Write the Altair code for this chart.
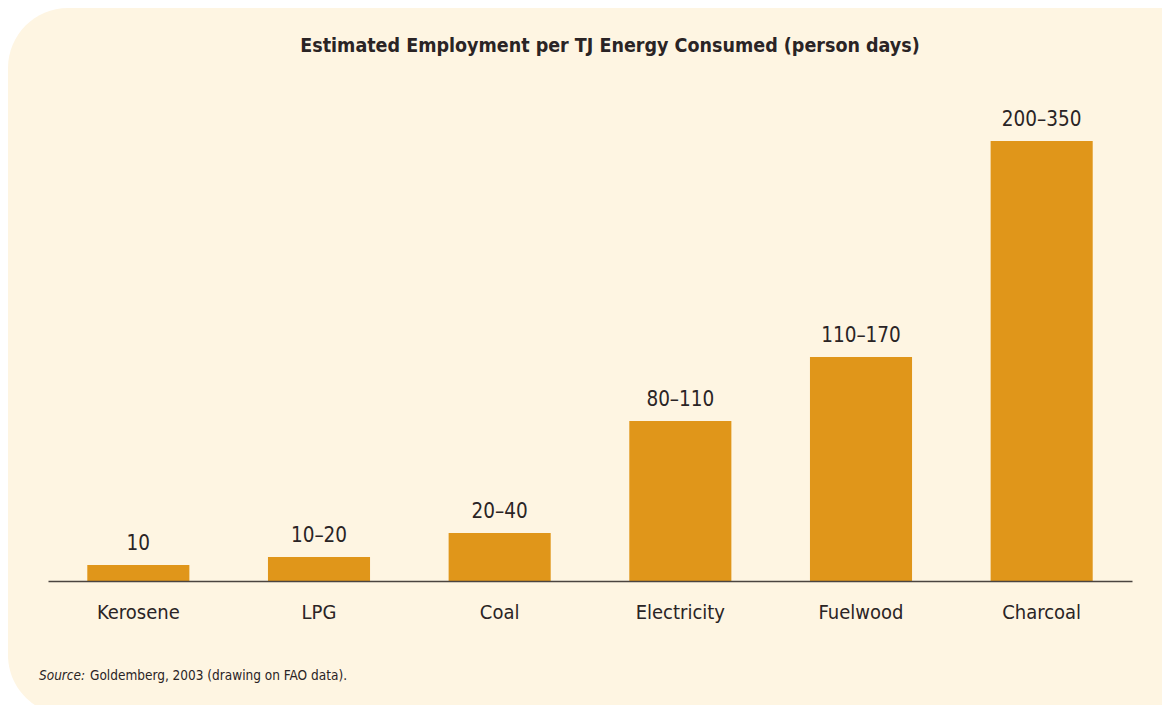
import altair as alt
import pandas as pd

categories = ["Kerosene", "LPG", "Coal", "Electricity", "Fuelwood", "Charcoal"]
bar_values = [10, 15, 30, 100, 140, 275]
range_labels = ["10", "10–20", "20–40", "80–110", "110–170", "200–350"]

title_text = "Estimated Employment per TJ Energy Consumed (person days)"
source_lead = "Source:"
source_rest = "Goldemberg, 2003 (drawing on FAO data)."

FONT = "DejaVu Sans Condensed, Liberation Sans Narrow, sans-serif"
TEXT = "#2a2425"
BAR = "#e0961a"
PANEL = "#fef5e2"

W, H = 1084, 480
PL, PT, PR, PB = 40, 93, 30, 124

df = pd.DataFrame({"fuel": categories, "value": bar_values, "label": range_labels})
one = pd.DataFrame({"k": [0]})

panel = alt.Chart(one).mark_rect(color=PANEL, cornerRadius=60).encode(
    x=alt.value(-PL), x2=alt.value(W + PR + 120),
    y=alt.value(-PT), y2=alt.value(H + PB + 10),
)

x_enc = alt.X(
    "fuel:N", sort=categories,
    scale=alt.Scale(paddingInner=0.435, paddingOuter=0.2175),
    axis=alt.Axis(
        title=None, labelAngle=0, ticks=False, tickSize=0, labelPadding=37,
        labelBaseline="alphabetic", labelFontSize=20, labelFont=FONT,
        labelColor=TEXT, domainColor="#4a4440", domainWidth=1.5,
        grid=False, zindex=1,
    ),
)
y_enc = alt.Y("value:Q", scale=alt.Scale(domain=[0, 300]), axis=None)

bars = alt.Chart(df).mark_bar(color=BAR).encode(x=x_enc, y=y_enc)

labels = alt.Chart(df).mark_text(
    dy=-15, baseline="alphabetic", fontSize=20.5, font=FONT, color=TEXT
).encode(x=alt.X("fuel:N", sort=categories), y=y_enc, text="label:N")

title = alt.Chart(one).mark_text(
    text=title_text, font=FONT, fontSize=19.5, fontWeight="bold", color=TEXT,
    align="center", baseline="alphabetic",
).encode(x=alt.value(562), y=alt.value(-49.5))

src1 = alt.Chart(one).mark_text(
    text=source_lead, font=FONT, fontSize=13.5, fontStyle="italic", color=TEXT,
    align="left", baseline="alphabetic",
).encode(x=alt.value(-9), y=alt.value(579))

src2 = alt.Chart(one).mark_text(
    text=source_rest, font=FONT, fontSize=13.5, color=TEXT,
    align="left", baseline="alphabetic",
).encode(x=alt.value(42), y=alt.value(579))

chart = alt.layer(panel, bars, labels, title, src1, src2).properties(
    width=W, height=H,
    padding={"left": PL, "top": PT, "right": PR, "bottom": PB},
    autosize=alt.AutoSizeParams(type="none"),
).configure(background="white").configure_view(stroke=None)

chart.save("out.html", embed_options={"renderer": "svg", "actions": False})
